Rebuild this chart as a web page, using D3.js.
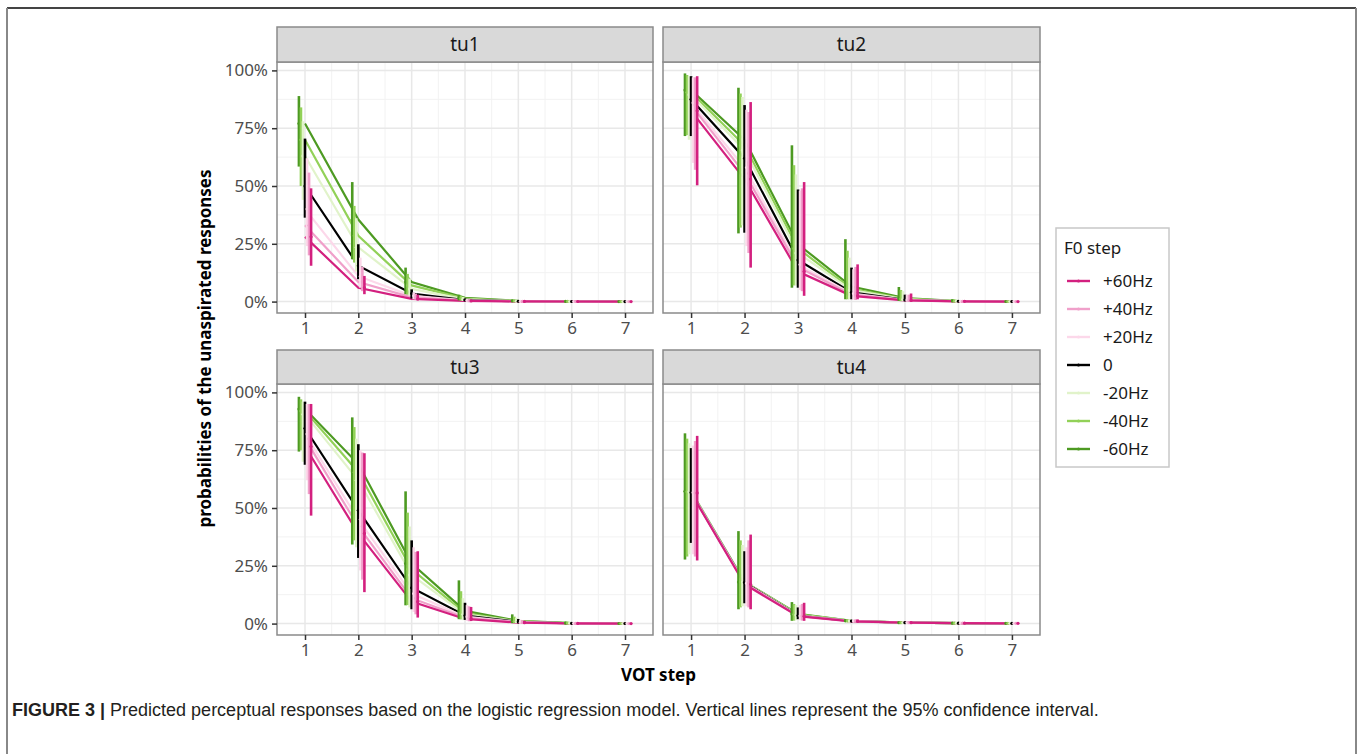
<!DOCTYPE html>
<html>
<head>
<meta charset="utf-8">
<script src="https://cdn.jsdelivr.net/npm/d3@7"></script>
<style>
  body { margin: 0; background: #fff; }
  svg { display: block; }
</style>
</head>
<body>
<svg id="chart" width="1358" height="754"></svg>
<script>
// facet names, VOT steps, F0 steps (legend order) and their colours
var panels = ["tu1", "tu2", "tu3", "tu4"];
var steps = [1, 2, 3, 4, 5, 6, 7];
var f0Steps = ["+60Hz", "+40Hz", "+20Hz", "0", "-20Hz", "-40Hz", "-60Hz"];
var f0Colors = ["#d3207f", "#f0a0ca", "#fcd8ea", "#000000", "#e1f3ca", "#92d158", "#4d9a22"];
var yTicks = [0, 0.25, 0.5, 0.75, 1];

// predicted probabilities, one row per F0 step (legend order), one value per VOT step
var tu1Mean = [
  [0.28, 0.06, 0.012, 0.003, 0.0008, 0.0003, 0.0001],
  [0.33, 0.085, 0.018, 0.004, 0.001, 0.0004, 0.0001],
  [0.40, 0.11, 0.025, 0.005, 0.0012, 0.0004, 0.0001],
  [0.50, 0.155, 0.035, 0.007, 0.0015, 0.0005, 0.0001],
  [0.63, 0.235, 0.055, 0.01, 0.002, 0.0005, 0.0001],
  [0.70, 0.285, 0.07, 0.013, 0.0025, 0.0006, 0.0001],
  [0.77, 0.355, 0.085, 0.016, 0.003, 0.0007, 0.0002]
];
var tu1Lo = [
  [0.155, 0.032, 0.005, 0.001, 0.0002, 0.0001, 0],
  [0.20, 0.045, 0.008, 0.001, 0.0002, 0.0001, 0],
  [0.24, 0.06, 0.01, 0.002, 0.0003, 0.0001, 0],
  [0.363, 0.097, 0.013, 0.002, 0.0004, 0.0001, 0],
  [0.44, 0.13, 0.025, 0.003, 0.0005, 0.0001, 0],
  [0.50, 0.169, 0.03, 0.004, 0.0006, 0.0001, 0],
  [0.584, 0.183, 0.032, 0.005, 0.0008, 0.0001, 0]
];
var tu1Hi = [
  [0.49, 0.111, 0.03, 0.006, 0.002, 0.001, 0.0005],
  [0.558, 0.15, 0.035, 0.007, 0.002, 0.001, 0.0005],
  [0.62, 0.19, 0.04, 0.009, 0.003, 0.001, 0.0005],
  [0.705, 0.248, 0.053, 0.012, 0.004, 0.0012, 0.0005],
  [0.78, 0.36, 0.10, 0.02, 0.005, 0.0015, 0.0006],
  [0.84, 0.414, 0.12, 0.025, 0.006, 0.0018, 0.0006],
  [0.889, 0.517, 0.147, 0.03, 0.007, 0.002, 0.0007]
];

var tu2Mean = [
  [0.825, 0.53, 0.13, 0.025, 0.005, 0.001, 0.0002],
  [0.85, 0.555, 0.15, 0.03, 0.006, 0.001, 0.0002],
  [0.86, 0.58, 0.16, 0.035, 0.007, 0.0012, 0.0002],
  [0.875, 0.62, 0.18, 0.04, 0.008, 0.0015, 0.0003],
  [0.895, 0.655, 0.21, 0.05, 0.01, 0.0018, 0.0003],
  [0.905, 0.675, 0.23, 0.055, 0.012, 0.002, 0.0004],
  [0.915, 0.70, 0.248, 0.065, 0.015, 0.0025, 0.0004]
];
var tu2Lo = [
  [0.503, 0.147, 0.025, 0.01, 0.001, 0.0001, 0],
  [0.57, 0.21, 0.045, 0.007, 0.001, 0.0001, 0],
  [0.60, 0.24, 0.05, 0.008, 0.001, 0.0001, 0],
  [0.716, 0.298, 0.06, 0.01, 0.001, 0.0001, 0],
  [0.70, 0.33, 0.07, 0.01, 0.002, 0.0002, 0],
  [0.72, 0.32, 0.07, 0.01, 0.002, 0.0002, 0],
  [0.716, 0.295, 0.06, 0.01, 0.003, 0.0002, 0]
];
var tu2Hi = [
  [0.975, 0.863, 0.517, 0.161, 0.035, 0.006, 0.001],
  [0.97, 0.82, 0.49, 0.15, 0.03, 0.005, 0.001],
  [0.97, 0.83, 0.48, 0.14, 0.03, 0.005, 0.001],
  [0.975, 0.85, 0.485, 0.147, 0.03, 0.006, 0.001],
  [0.975, 0.885, 0.55, 0.19, 0.045, 0.007, 0.001],
  [0.98, 0.90, 0.59, 0.22, 0.05, 0.008, 0.0012],
  [0.987, 0.925, 0.676, 0.27, 0.063, 0.01, 0.0015]
];

var tu3Mean = [
  [0.766, 0.39, 0.095, 0.02, 0.004, 0.0008, 0.0002],
  [0.80, 0.42, 0.11, 0.025, 0.005, 0.001, 0.0002],
  [0.82, 0.45, 0.13, 0.03, 0.006, 0.001, 0.0002],
  [0.845, 0.49, 0.155, 0.035, 0.008, 0.0013, 0.0003],
  [0.905, 0.62, 0.21, 0.04, 0.009, 0.0015, 0.0003],
  [0.92, 0.655, 0.235, 0.045, 0.01, 0.0018, 0.0003],
  [0.928, 0.69, 0.26, 0.055, 0.012, 0.002, 0.0004]
];
var tu3Lo = [
  [0.467, 0.136, 0.026, 0.011, 0.001, 0.0001, 0],
  [0.56, 0.19, 0.04, 0.01, 0.001, 0.0001, 0],
  [0.62, 0.23, 0.05, 0.012, 0.001, 0.0001, 0],
  [0.687, 0.284, 0.062, 0.016, 0.001, 0.0001, 0],
  [0.70, 0.33, 0.07, 0.015, 0.002, 0.0002, 0],
  [0.75, 0.36, 0.08, 0.018, 0.002, 0.0002, 0],
  [0.744, 0.342, 0.079, 0.019, 0.002, 0.0002, 0]
];
var tu3Hi = [
  [0.95, 0.737, 0.313, 0.072, 0.012, 0.003, 0.001],
  [0.95, 0.74, 0.31, 0.075, 0.015, 0.003, 0.001],
  [0.95, 0.75, 0.33, 0.08, 0.017, 0.003, 0.001],
  [0.96, 0.776, 0.36, 0.09, 0.02, 0.004, 0.001],
  [0.96, 0.80, 0.42, 0.11, 0.025, 0.005, 0.001],
  [0.97, 0.85, 0.48, 0.14, 0.03, 0.006, 0.0012],
  [0.981, 0.892, 0.572, 0.187, 0.04, 0.008, 0.0015]
];

var tu4Mean = [
  [0.565, 0.17, 0.032, 0.01, 0.004, 0.002, 0.001],
  [0.565, 0.175, 0.033, 0.011, 0.004, 0.002, 0.001],
  [0.567, 0.175, 0.034, 0.011, 0.004, 0.002, 0.001],
  [0.567, 0.178, 0.035, 0.011, 0.004, 0.002, 0.001],
  [0.57, 0.18, 0.037, 0.012, 0.004, 0.002, 0.001],
  [0.57, 0.18, 0.04, 0.012, 0.004, 0.002, 0.001],
  [0.572, 0.18, 0.042, 0.012, 0.004, 0.002, 0.001]
];
var tu4Lo = [
  [0.273, 0.062, 0.012, 0.006, 0.002, 0.001, 0.0003],
  [0.29, 0.07, 0.013, 0.006, 0.002, 0.001, 0.0003],
  [0.30, 0.075, 0.015, 0.006, 0.002, 0.001, 0.0003],
  [0.349, 0.088, 0.019, 0.007, 0.002, 0.001, 0.0004],
  [0.30, 0.075, 0.015, 0.006, 0.002, 0.001, 0.0003],
  [0.29, 0.07, 0.013, 0.006, 0.002, 0.001, 0.0003],
  [0.277, 0.062, 0.012, 0.007, 0.002, 0.001, 0.0003]
];
var tu4Hi = [
  [0.812, 0.385, 0.09, 0.018, 0.008, 0.004, 0.002],
  [0.79, 0.36, 0.085, 0.018, 0.008, 0.004, 0.002],
  [0.77, 0.33, 0.08, 0.017, 0.007, 0.004, 0.002],
  [0.759, 0.313, 0.07, 0.016, 0.007, 0.003, 0.002],
  [0.78, 0.34, 0.08, 0.017, 0.007, 0.004, 0.002],
  [0.80, 0.36, 0.085, 0.018, 0.008, 0.004, 0.002],
  [0.823, 0.40, 0.093, 0.019, 0.008, 0.004, 0.002]
];

var panelMean = [tu1Mean, tu2Mean, tu3Mean, tu4Mean];
var panelLo = [tu1Lo, tu2Lo, tu3Lo, tu4Lo];
var panelHi = [tu1Hi, tu2Hi, tu3Hi, tu4Hi];

var svg = d3.select("#chart");
var font = "'Noto Sans', 'Open Sans', sans-serif";

// outer figure frame
svg.append("line").attr("x1", 7).attr("x2", 1356).attr("y1", 8).attr("y2", 8)
  .attr("stroke", "#444").attr("stroke-width", 2);
svg.append("line").attr("x1", 7).attr("x2", 7).attr("y1", 8).attr("y2", 754)
  .attr("stroke", "#888").attr("stroke-width", 2);
svg.append("line").attr("x1", 1356).attr("x2", 1356).attr("y1", 8).attr("y2", 754)
  .attr("stroke", "#888").attr("stroke-width", 2);

// layout of the facet grid
var colX = [[277, 653], [663, 1040]];
var rowY = [{strip: 27, top: 62, bottom: 313}, {strip: 350, top: 384, bottom: 635}];

// shared y scale: data range with 5% expansion (like ggplot)
var allLo = d3.min(panelLo, function(p) { return d3.min(p, function(r) { return d3.min(r); }); });
var allHi = d3.max(panelHi, function(p) { return d3.max(p, function(r) { return d3.max(r); }); });
var pad = (allHi - allLo) * 0.05;
var yDomain = [allLo - pad, allHi + pad];

var dodge = 0.038;

panels.forEach(function(name, pi) {
  var col = pi % 2, row = Math.floor(pi / 2);
  var x0 = colX[col][0], x1 = colX[col][1];
  var r = rowY[row];

  var x = d3.scaleLinear().domain([0.475, 7.525]).range([x0, x1]);
  var y = d3.scaleLinear().domain(yDomain).range([r.bottom, r.top]);

  var g = svg.append("g");

  // panel background + grid
  g.append("rect").attr("x", x0).attr("y", r.top).attr("width", x1 - x0).attr("height", r.bottom - r.top)
    .attr("fill", "#fff");
  var minorX = d3.range(1.5, 7.5, 1);
  var minorY = [0.125, 0.375, 0.625, 0.875];
  g.selectAll(".mnx").data(minorX).enter().append("line")
    .attr("x1", function(d) { return x(d); }).attr("x2", function(d) { return x(d); })
    .attr("y1", r.top).attr("y2", r.bottom).attr("stroke", "#f2f2f2").attr("stroke-width", 1);
  g.selectAll(".mny").data(minorY).enter().append("line")
    .attr("y1", function(d) { return y(d); }).attr("y2", function(d) { return y(d); })
    .attr("x1", x0).attr("x2", x1).attr("stroke", "#f2f2f2").attr("stroke-width", 1);
  g.selectAll(".mjx").data(steps).enter().append("line")
    .attr("x1", function(d) { return x(d); }).attr("x2", function(d) { return x(d); })
    .attr("y1", r.top).attr("y2", r.bottom).attr("stroke", "#e8e8e8").attr("stroke-width", 1.5);
  g.selectAll(".mjy").data(yTicks).enter().append("line")
    .attr("y1", function(d) { return y(d); }).attr("y2", function(d) { return y(d); })
    .attr("x1", x0).attr("x2", x1).attr("stroke", "#e8e8e8").attr("stroke-width", 1.5);

  var mean = panelMean[pi], lo = panelLo[pi], hi = panelHi[pi];
  var order = d3.range(f0Steps.length).reverse(); // -60Hz drawn first, +60Hz on top

  // lines through the undodged VOT positions
  var line = d3.line().x(function(d, i) { return x(steps[i]); }).y(function(d) { return y(d); });
  order.forEach(function(si) {
    g.append("path").attr("d", line(mean[si])).attr("fill", "none")
      .attr("stroke", f0Colors[si]).attr("stroke-width", 2.2);
  });

  // dodged error bars and points
  order.forEach(function(si) {
    var off = (3 - si) * dodge;
    g.selectAll(null).data(steps).enter().append("line")
      .attr("x1", function(d) { return x(d + off); }).attr("x2", function(d) { return x(d + off); })
      .attr("y1", function(d, i) { return y(lo[si][i]); })
      .attr("y2", function(d, i) { return y(hi[si][i]); })
      .attr("stroke", f0Colors[si]).attr("stroke-width", 2.6);
    g.selectAll(null).data(steps).enter().append("circle")
      .attr("cx", function(d) { return x(d + off); })
      .attr("cy", function(d, i) { return y(mean[si][i]); })
      .attr("r", 1.6).attr("fill", f0Colors[si]);
  });

  // panel border
  g.append("rect").attr("x", x0).attr("y", r.top).attr("width", x1 - x0).attr("height", r.bottom - r.top)
    .attr("fill", "none").attr("stroke", "#8a8a8a").attr("stroke-width", 1.5);

  // strip
  g.append("rect").attr("x", x0).attr("y", r.strip).attr("width", x1 - x0).attr("height", r.top - r.strip)
    .attr("fill", "#d9d9d9").attr("stroke", "#8a8a8a").attr("stroke-width", 1.5);
  g.append("text").attr("x", (x0 + x1) / 2).attr("y", (r.strip + r.top) / 2)
    .attr("dy", "0.35em").attr("text-anchor", "middle")
    .style("font-family", font).style("font-size", "19px").style("fill", "#1a1a1a")
    .text(name);

  // x axis for every panel
  var xAxis = g.append("g").attr("transform", "translate(0," + r.bottom + ")")
    .call(d3.axisBottom(x).tickValues(steps).tickFormat(d3.format("d")).tickSize(5).tickPadding(4));
  xAxis.select(".domain").remove();
  xAxis.selectAll("line").attr("stroke", "#333").attr("stroke-width", 1.5);
  xAxis.selectAll("text").style("font-family", font).style("font-size", "17px").style("fill", "#4d4d4d");

  // y axis only on the left column
  if (col === 0) {
    var yAxis = g.append("g").attr("transform", "translate(" + x0 + ",0)")
      .call(d3.axisLeft(y).tickValues(yTicks).tickFormat(d3.format(".0%")).tickSize(5).tickPadding(4));
    yAxis.select(".domain").remove();
    yAxis.selectAll("line").attr("stroke", "#333").attr("stroke-width", 1.5);
    yAxis.selectAll("text").style("font-family", font).style("font-size", "17px").style("fill", "#4d4d4d");
  }
});

// axis titles
svg.append("text")
  .attr("transform", "translate(211," + ((62 + 635) / 2) + ") rotate(-90)")
  .attr("text-anchor", "middle")
  .style("font-family", font).style("font-size", "17px").style("font-weight", "bold")
  .text("probabilities of the unaspirated responses");
svg.append("text")
  .attr("x", (277 + 1040) / 2).attr("y", 681)
  .attr("text-anchor", "middle")
  .style("font-family", font).style("font-size", "17px").style("font-weight", "bold")
  .text("VOT step");

// legend
var lg = svg.append("g");
lg.append("rect").attr("x", 1056).attr("y", 228).attr("width", 113).attr("height", 239)
  .attr("fill", "#fff").attr("stroke", "#c8c8c8").attr("stroke-width", 1.5);
lg.append("text").attr("x", 1064).attr("y", 248).attr("dy", "0.35em")
  .style("font-family", font).style("font-size", "17px").style("fill", "#1a1a1a")
  .text("F0 step");
var item = lg.selectAll(".item").data(f0Steps).enter().append("g")
  .attr("transform", function(d, i) { return "translate(0," + (281 + i * 28) + ")"; });
item.append("line").attr("x1", 1067).attr("x2", 1090).attr("y1", 0).attr("y2", 0)
  .attr("stroke", function(d, i) { return f0Colors[i]; }).attr("stroke-width", 2.4);
item.append("circle").attr("cx", 1078.5).attr("cy", 0).attr("r", 1.5)
  .attr("fill", function(d, i) { return f0Colors[i]; });
item.append("text").attr("x", 1103).attr("y", 0).attr("dy", "0.35em")
  .style("font-family", font).style("font-size", "17px").style("fill", "#1a1a1a")
  .text(function(d) { return d; });

// caption
var cap = svg.append("text").attr("x", 12).attr("y", 716)
  .style("font-family", "'Liberation Sans', Arial, sans-serif")
  .style("font-size", "18px").style("fill", "#231f20");
cap.append("tspan").style("font-weight", "bold").text("FIGURE 3 | ");
cap.append("tspan").text("Predicted perceptual responses based on the logistic regression model. Vertical lines represent the 95% confidence interval.");
</script>
</body>
</html>
